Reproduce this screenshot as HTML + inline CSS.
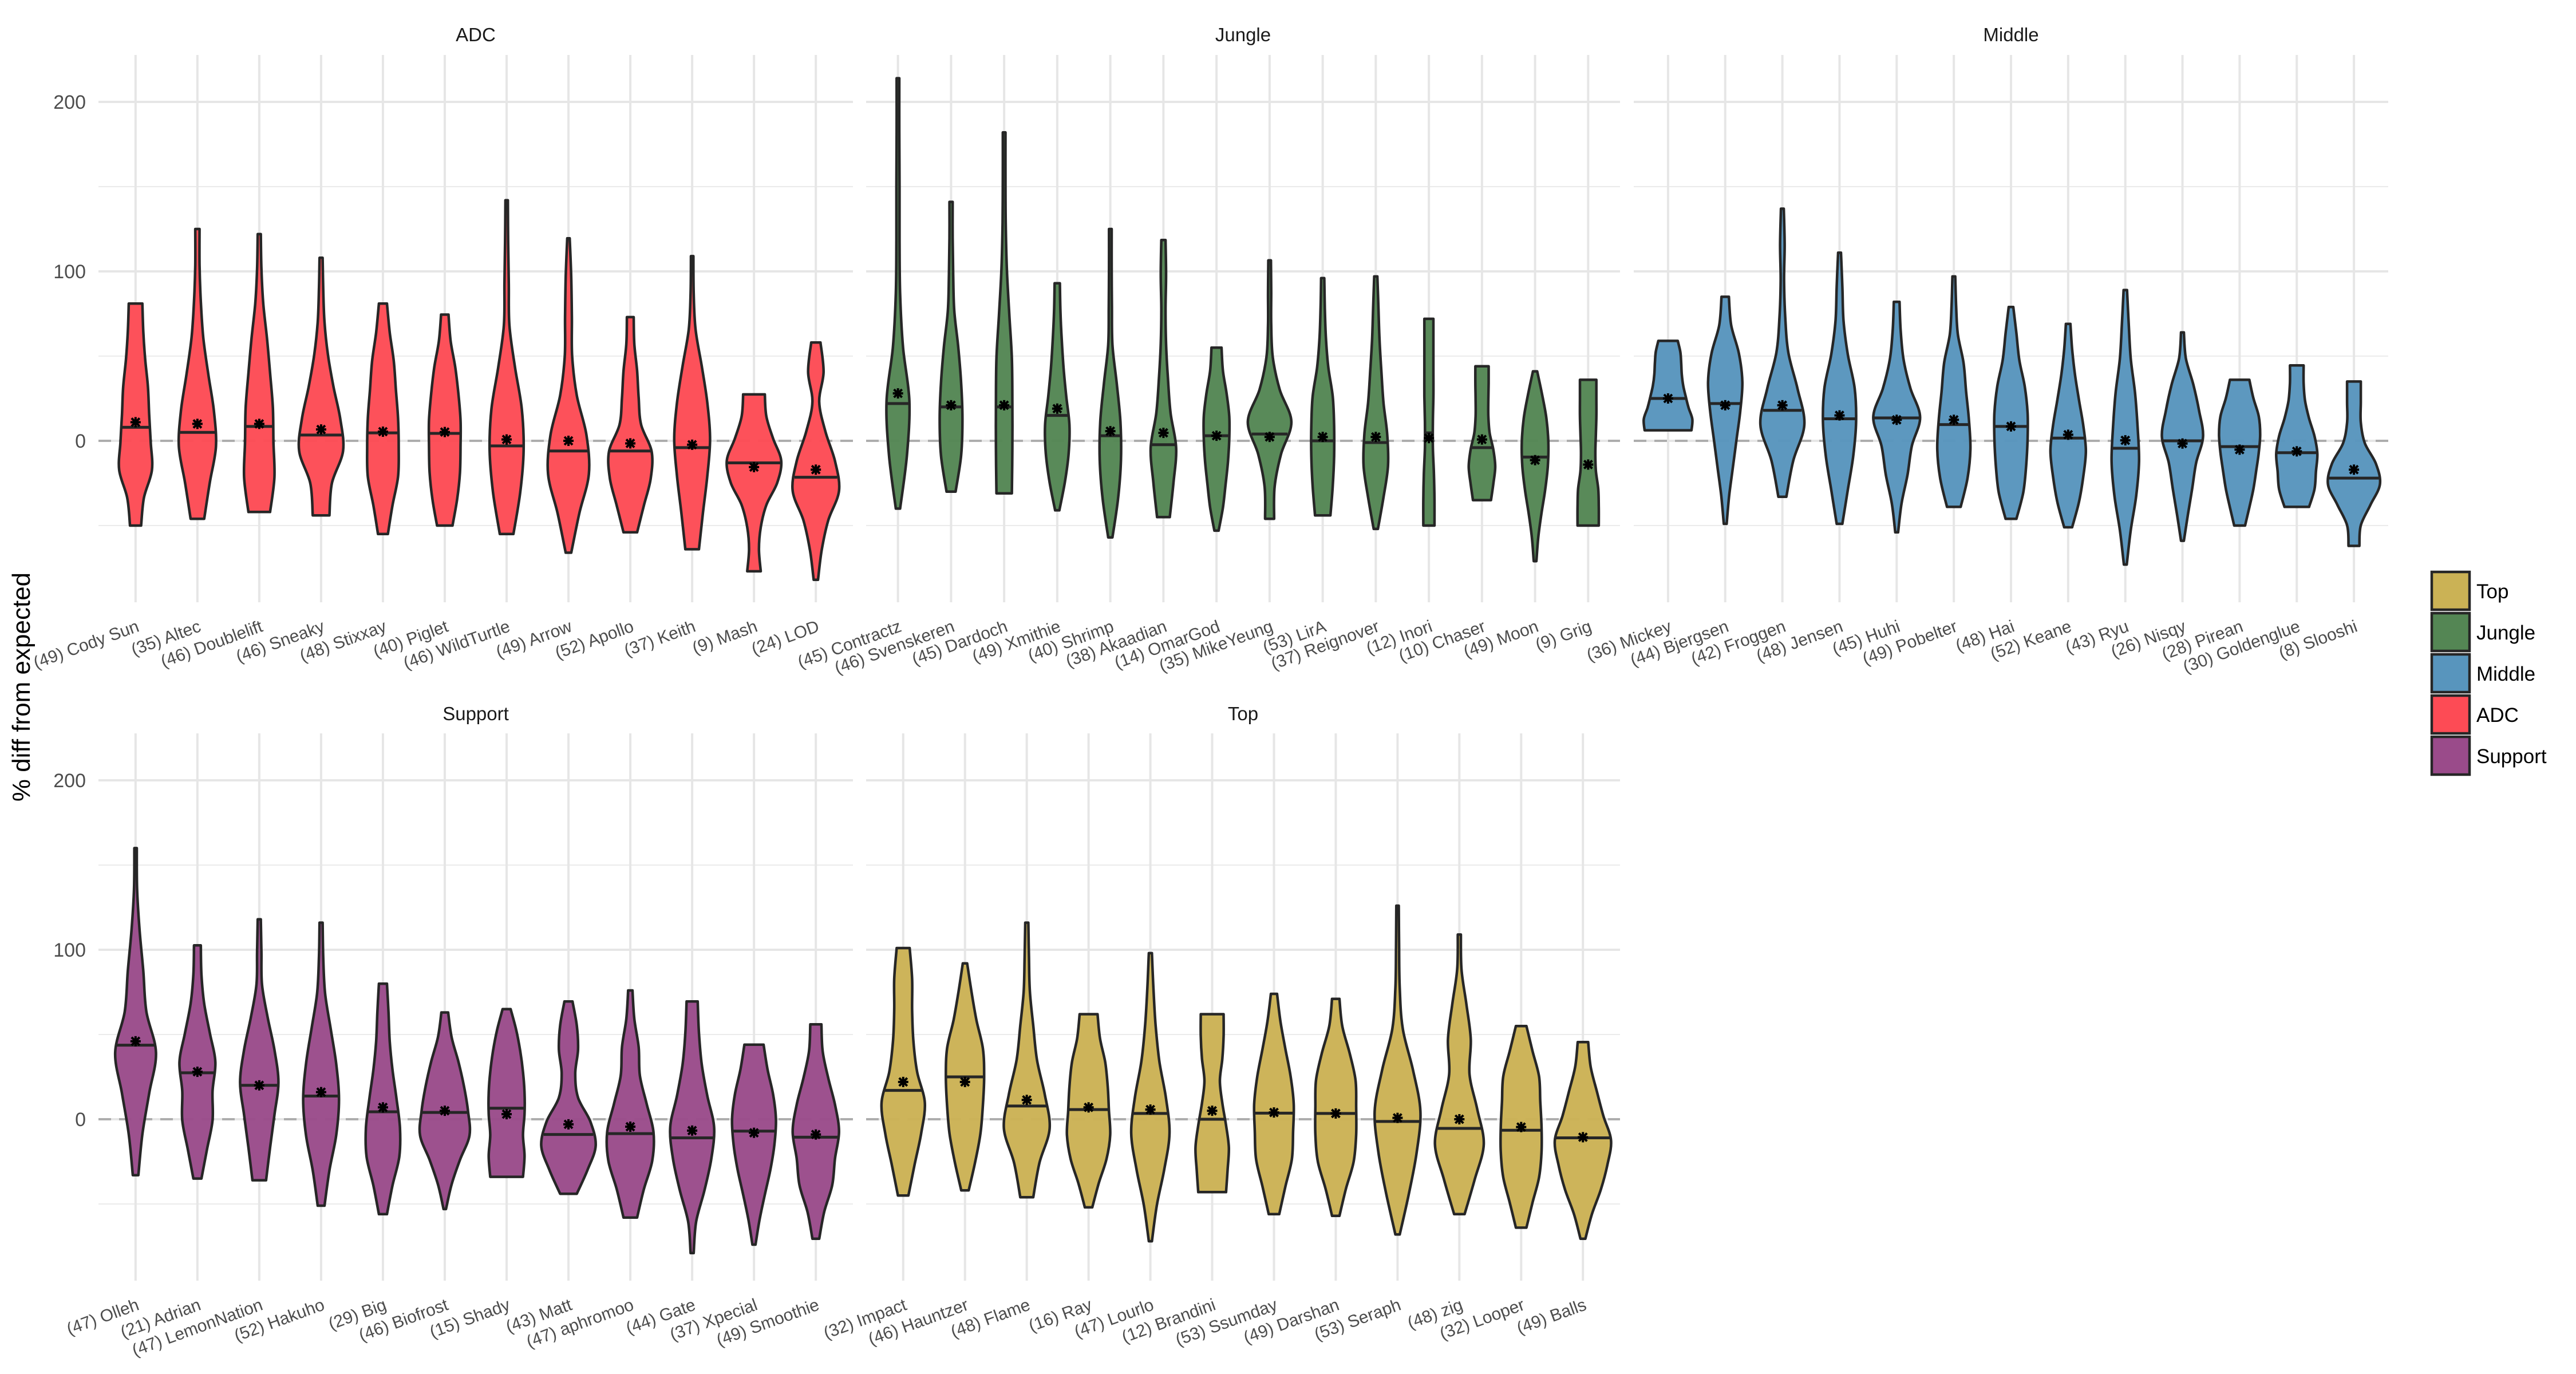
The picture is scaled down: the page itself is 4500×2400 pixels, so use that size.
<!DOCTYPE html>
<html><head><meta charset="utf-8"><style>
html,body{margin:0;padding:0;background:#fff;}
svg{display:block;font-family:"Liberation Sans",Arial,sans-serif;}
</style></head><body>
<svg id="chart" width="4500" height="2400" viewBox="0 0 4500 2400" xmlns="http://www.w3.org/2000/svg">
<rect width="4500" height="2400" fill="#fff"/>
<text x="0" y="0" transform="translate(52,1200) rotate(-90)" text-anchor="middle" font-size="44" fill="#000">% diff from expected</text>
<g id="legend"></g>
</svg>
<script>
// ---------- DATA ----------
const adcNames=["Cody Sun","Altec","Doublelift","Sneaky","Stixxay","Piglet","WildTurtle","Arrow","Apollo","Keith","Mash","LOD"];
const adcCounts=[49,35,46,46,48,40,46,49,52,37,9,24];
const adcMin=[-50,-46,-42,-44,-55,-50,-55,-66,-54,-64,-77,-82];
const adcMax=[81,125,122,108,81,74.5,142,119.5,73,109,27.4,58];
const adcMedian=[8,5,8.5,3.4,4.7,4.4,-3,-6,-6,-4,-13,-21.5];
const adcMean=[11,10,10,6.7,5.4,5.2,0.8,0,-1.5,-2.3,-15.5,-17];
const adcWidths=[[.18,.27,.53,.49,.44,.40,.31,.25,.22],[.22,.40,.60,.53,.35,.19,.11,.07,.07],[.35,.49,.46,.44,.35,.25,.13,.07,.05],[.27,.35,.71,.62,.40,.22,.11,.07,.05],[.16,.31,.49,.51,.49,.42,.35,.22,.13],[.25,.40,.49,.51,.51,.44,.34,.19,.12],[.22,.44,.55,.49,.27,.09,.07,.05,.04],[.09,.35,.66,.58,.27,.12,.11,.09,.04],[.22,.44,.66,.69,.35,.27,.22,.13,.11],[.22,.35,.49,.58,.49,.31,.11,.05,.04],[.22,.16,.22,.40,.75,.88,.62,.40,.35],[.07,.19,.40,.75,.62,.31,.11,.25,.15]];

const jungleNames=["Contractz","Svenskeren","Dardoch","Xmithie","Shrimp","Akaadian","OmarGod","MikeYeung","LirA","Reignover","Inori","Chaser","Moon","Grig"];
const jungleCounts=[45,46,45,49,40,38,14,35,53,37,12,10,49,9];
const jungleMin=[-40,-30,-31,-41,-57,-45,-53,-46,-44,-52,-50,-35,-71,-50];
const jungleMax=[214,141,182,93,125,118.5,55,106.5,96,97,72,44,41,36];
const jungleMedian=[22,20,20,15,3,-2.3,3,4,0,-1,4.7,-4,-9.6,-50];
const jungleMean=[28,21,21,19,5.7,4.7,3,2.3,2.3,2.3,1.6,0.8,-11.4,-14];
const jungleWidths=[[.08,.34,.43,.19,.08,.06,.06,.05,.05],[.17,.38,.43,.38,.27,.12,.08,.06,.06],[.29,.31,.31,.29,.19,.10,.06,.05,.05],[.08,.29,.43,.46,.34,.24,.17,.12,.10],[.08,.29,.40,.38,.24,.08,.06,.05,.05],[.24,.38,.48,.27,.17,.10,.08,.10,.08],[.08,.24,.34,.43,.48,.48,.38,.24,.19],[.17,.19,.43,.82,.38,.12,.06,.06,.05],[.29,.38,.43,.43,.38,.21,.12,.08,.06],[.08,.29,.46,.43,.29,.21,.14,.10,.06],[.21,.21,.19,.15,.15,.17,.17,.17,.17],[.34,.43,.50,.43,.29,.24,.24,.25,.25],[.05,.12,.24,.38,.48,.50,.43,.27,.08],[.40,.40,.38,.29,.27,.29,.31,.31,.31]];

const middleNames=["Mickey","Bjergsen","Froggen","Jensen","Huhi","Pobelter","Hai","Keane","Ryu","Nisqy","Pirean","Goldenglue","Slooshi"];
const middleCounts=[36,44,42,48,45,49,48,52,43,26,28,30,8];
const middleMin=[6.2,-49,-33,-49,-54,-39,-46,-51,-73,-59,-50,-39,-62];
const middleMax=[59,85,137,111,82,97,79,69,89,64,36,44.5,35];
const middleMedian=[25,22,18,13,13.5,9.6,8.5,1.6,-4.4,0,-3.4,-7,-22];
const middleMean=[25,21,21,15,12.4,12.4,8.5,3.6,0.3,-1.6,-5.2,-6.2,-17];
const middleWidths=[[.82,.85,.72,.62,.53,.48,.46,.43,.34],[.05,.14,.27,.40,.53,.60,.48,.21,.13],[.14,.38,.77,.53,.21,.10,.06,.08,.05],[.10,.29,.48,.58,.53,.29,.14,.10,.05],[.05,.17,.38,.53,.82,.48,.24,.14,.10],[.24,.48,.58,.53,.43,.34,.14,.08,.05],[.19,.43,.53,.58,.58,.48,.29,.19,.08],[.14,.38,.53,.62,.53,.38,.24,.14,.08],[.05,.19,.38,.48,.43,.34,.19,.12,.06],[.05,.19,.34,.48,.72,.58,.38,.12,.05],[.19,.34,.48,.58,.67,.72,.67,.48,.34],[.43,.62,.67,.72,.62,.43,.29,.24,.24],[.19,.24,.58,.91,.77,.38,.24,.24,.24]];

const supportNames=["Olleh","Adrian","LemonNation","Hakuho","Big","Biofrost","Shady","Matt","aphromoo","Gate","Xpecial","Smoothie"];
const supportCounts=[47,21,47,52,29,46,15,43,47,44,37,49];
const supportMin=[-33,-35,-36,-51,-56,-53,-34,-44,-58,-79,-74,-70.5];
const supportMax=[160,102.6,118,116,80,63,65,69.5,76,69.5,44,56];
const supportMedian=[43.7,27.4,20,13.7,4.4,4,6.5,-9,-8.5,-11,-7,-10.6];
const supportMean=[46,28,20,16,7,5,3,-3,-4.4,-6.7,-8,-9];
const supportWidths=[[.09,.22,.44,.66,.35,.25,.13,.05,.04],[.13,.31,.49,.49,.58,.40,.22,.13,.11],[.22,.35,.49,.62,.49,.27,.09,.07,.05],[.11,.27,.49,.58,.49,.31,.13,.07,.05],[.13,.31,.53,.55,.44,.31,.22,.18,.13],[.04,.22,.49,.80,.75,.62,.44,.22,.11],[.53,.58,.53,.58,.58,.53,.44,.31,.13],[.27,.62,.88,.71,.31,.22,.31,.27,.13],[.22,.44,.71,.75,.53,.31,.27,.13,.07],[.05,.13,.40,.62,.71,.49,.31,.22,.18],[.05,.18,.35,.53,.66,.71,.62,.44,.31],[.11,.27,.53,.62,.75,.62,.40,.22,.18]];

const topNames=["Impact","Hauntzer","Flame","Ray","Lourlo","Brandini","Ssumday","Darshan","Seraph","zig","Looper","Balls"];
const topCounts=[32,46,48,16,47,12,53,49,53,48,32,49];
const topMin=[-45,-42,-46,-52,-72,-43,-56,-57,-68,-56,-64,-70.5];
const topMax=[101,92,116,62,98,62,74,71,126,109,55,45.5];
const topMedian=[17,25,7.8,5.7,3.4,0,3.6,3.4,-1.3,-5.4,-6.5,-11];
const topMean=[22,22,11.4,7,5.7,5,4,3.4,0.8,0,-4.6,-10.6];
const topWidths=[[.17,.37,.58,.70,.45,.33,.29,.29,.21],[.12,.33,.50,.58,.62,.58,.37,.21,.07],[.21,.41,.74,.58,.33,.21,.10,.07,.05],[.12,.33,.58,.70,.66,.62,.54,.37,.29],[.05,.21,.45,.62,.50,.29,.17,.10,.05],[.45,.50,.54,.45,.33,.25,.33,.37,.37],[.17,.37,.58,.62,.64,.54,.37,.21,.10],[.12,.33,.58,.66,.66,.64,.45,.21,.12],[.07,.37,.62,.74,.50,.17,.07,.05,.04],[.17,.50,.79,.58,.33,.37,.23,.07,.05],[.17,.37,.58,.66,.66,.62,.58,.37,.17],[.08,.29,.58,.79,.91,.66,.45,.25,.17]];

const majorTicks=[0,100,200];
const minorTicks=[-50,50,150];
const legendLabels=["Top","Jungle","Middle","ADC","Support"];

// ---------- LAYOUT ----------
const NS="http://www.w3.org/2000/svg";
const svg=document.getElementById('chart');
function mk(tag,attrs,parent){const e=document.createElementNS(NS,tag);for(const k in attrs)e.setAttribute(k,attrs[k]);(parent||svg).appendChild(e);return e;}
const colors={Top:"#CBB255",Jungle:"#548654",Middle:"#5895BD",ADC:"#FD4B55",Support:"#9A4B8A"};
const rows=[{zero:770,top:96,bottom:1052,title:60,lab:1102},{zero:1955,top:1281,bottom:2237,title:1246,lab:2287}];
const pxPer=2.96;
const panels=[
 {key:"ADC",x0:172,x1:1490,row:0,names:adcNames,counts:adcCounts,mins:adcMin,maxs:adcMax,med:adcMedian,mean:adcMean,w:adcWidths,yl:true},
 {key:"Jungle",x0:1513,x1:2830,row:0,names:jungleNames,counts:jungleCounts,mins:jungleMin,maxs:jungleMax,med:jungleMedian,mean:jungleMean,w:jungleWidths,noMed:[13]},
 {key:"Middle",x0:2854,x1:4172,row:0,names:middleNames,counts:middleCounts,mins:middleMin,maxs:middleMax,med:middleMedian,mean:middleMean,w:middleWidths},
 {key:"Support",x0:172,x1:1490,row:1,names:supportNames,counts:supportCounts,mins:supportMin,maxs:supportMax,med:supportMedian,mean:supportMean,w:supportWidths,yl:true},
 {key:"Top",x0:1513,x1:2830,row:1,names:topNames,counts:topCounts,mins:topMin,maxs:topMax,med:topMedian,mean:topMean,w:topWidths}
];

function interpW(ws,t){const p=t*(ws.length-1);const i=Math.min(Math.floor(p),ws.length-2);const f=p-i;return ws[i]*(1-f)+ws[i+1]*f;}
function smooth(pts){ // Catmull-Rom through pts -> bezier segments
  let d="";
  for(let i=0;i<pts.length-1;i++){
    const p0=pts[Math.max(i-1,0)],p1=pts[i],p2=pts[i+1],p3=pts[Math.min(i+2,pts.length-1)];
    const c1=[p1[0]+(p2[0]-p0[0])/6,p1[1]+(p2[1]-p0[1])/6];
    const c2=[p2[0]-(p3[0]-p1[0])/6,p2[1]-(p3[1]-p1[1])/6];
    d+=` C${c1[0].toFixed(1)},${c1[1].toFixed(1)} ${c2[0].toFixed(1)},${c2[1].toFixed(1)} ${p2[0].toFixed(1)},${p2[1].toFixed(1)}`;
  }
  return d;
}

panels.forEach(P=>{
  const R=rows[P.row];
  const y=v=>R.zero-v*pxPer;
  const n=P.names.length;
  const step=(P.x1-P.x0)/(n-1+1.2);
  const xc=i=>P.x0+step*(0.6+i);
  const g=mk('g',{});
  
  
  minorTicks.forEach(v=>{const l=mk('line',{x1:P.x0,x2:P.x1,y1:y(v),y2:y(v),stroke:"#ebebeb","stroke-width":2},g);});
  majorTicks.forEach(v=>{const l=mk('line',{x1:P.x0,x2:P.x1,y1:y(v),y2:y(v),stroke:"#e6e6e6","stroke-width":4},g);
    if(P.yl){const t=mk('text',{x:150,y:y(v)+12,"text-anchor":"end","font-size":34,fill:"#4d4d4d"},g);t.textContent=v;}
  });
  for(let i=0;i<n;i++){const l=mk('line',{x1:xc(i),x2:xc(i),y1:R.top,y2:R.bottom,stroke:"#e6e6e6","stroke-width":4},g);}
  const st=mk('text',{x:(P.x0+P.x1)/2,y:R.title+12,"text-anchor":"middle","font-size":33,fill:"#1a1a1a"},g);
  st.textContent=P.key;
  
  
  const zl=mk('line',{x1:P.x0,x2:P.x1,y1:y(0),y2:y(0),stroke:"#adadad","stroke-width":4,"stroke-dasharray":"22 14"},g);
  
  
  for(let i=0;i<n;i++){
    const cx=xc(i),ws=P.w[i],mn=P.mins[i],mx=P.maxs[i],k=ws.length;
    const right=[],left=[];
    for(let j=0;j<k;j++){const v=mn+(mx-mn)*j/(k-1);const hw=ws[j]*step/2;right.push([cx+hw,y(v)]);}
    for(let j=k-1;j>=0;j--){const v=mn+(mx-mn)*j/(k-1);const hw=ws[j]*step/2;left.push([cx-hw,y(v)]);}
    let d=`M${left[k-1][0].toFixed(1)},${left[k-1][1].toFixed(1)} L${right[0][0].toFixed(1)},${right[0][1].toFixed(1)}`+smooth(right)+` L${left[0][0].toFixed(1)},${left[0][1].toFixed(1)}`+smooth(left)+"Z";
    const path=mk('path',{d:d,fill:colors[P.key],"fill-opacity":0.97,stroke:"#262626","stroke-width":4.5,"stroke-linejoin":"round"},g);
    
    
    if(!(P.noMed&&P.noMed.includes(i))){
      const t=(P.med[i]-mn)/(mx-mn);const hw=interpW(ws,Math.max(0,Math.min(1,t)))*step/2;
      const ml=mk('line',{x1:cx-hw,x2:cx+hw,y1:y(P.med[i]),y2:y(P.med[i]),stroke:"#262626","stroke-width":5},g);
      
      
    }
    const my=y(P.mean[i]);
    const ast=mk('g',{stroke:"#000","stroke-width":4},g);
    
    
    [[-9,0,9,0],[0,-9,0,9],[-7,-7,7,7],[-7,7,7,-7]].forEach(s=>mk('line',{x1:cx+s[0],y1:my+s[1],x2:cx+s[2],y2:my+s[3]},ast));
    const lx=cx+8,ly=R.lab;
    const lab=mk('text',{x:lx,y:ly,"text-anchor":"end","font-size":30,fill:"#4d4d4d",transform:`rotate(-20 ${lx} ${ly})`},g);
    lab.textContent=`(${P.counts[i]}) ${P.names[i]}`;
    
    
  }
});

// legend
const lg=document.getElementById('legend');
legendLabels.forEach((L,i)=>{
  const y0=997+i*72;
  const r=mk('rect',{x:4248,y:y0+2,width:66,height:66,fill:colors[L],stroke:"#262626","stroke-width":4.5},lg);
  
  
  const t=mk('text',{x:4326,y:y0+48,"font-size":35,fill:"#000"},lg);
  t.textContent=L;
  
  
});
</script>
</body></html>
